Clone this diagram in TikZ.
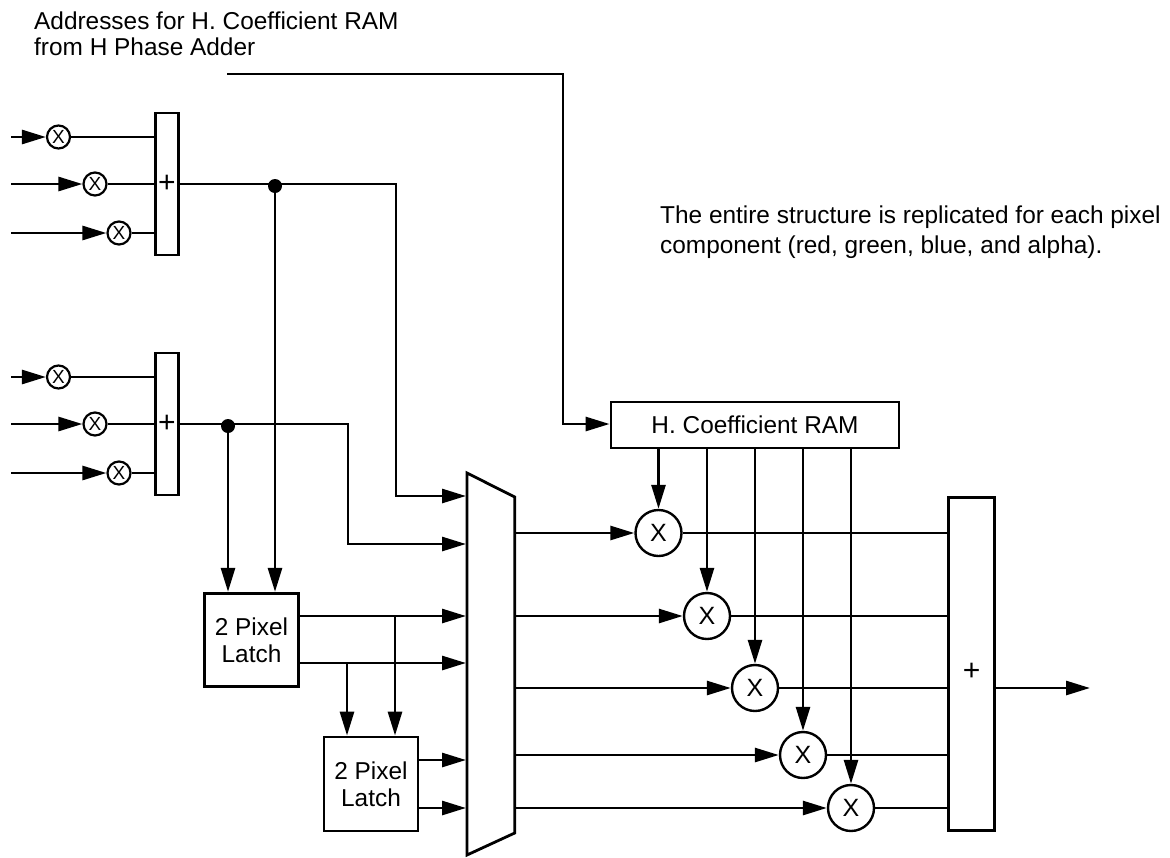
\documentclass[tikz,border=0pt]{standalone}
\usepackage{fontspec}
\setmainfont{Liberation Sans}
\usetikzlibrary{arrows.meta}
\begin{document}
\begin{tikzpicture}[x=1pt,y=-1pt,
  wire/.style={line width=2.8pt},
  arr/.style={wire,-{Triangle[length=24pt,width=14pt]}},
  box/.style={draw,line width=2.8pt,inner sep=0pt,font=\fontsize{24.4}{27}\selectfont},
  plusbox/.style={box,font=\fontsize{30}{30}\selectfont},
  smul/.style={draw,circle,line width=2.2pt,minimum size=23pt,inner sep=0pt,font=\fontsize{19}{19}\selectfont},
  bmul/.style={draw,circle,line width=2.4pt,minimum size=46pt,inner sep=0pt,font=\fontsize{25}{25}\selectfont},
  txt/.style={anchor=base west,inner sep=0pt,font=\fontsize{24.4}{28}\selectfont},
  dot/.style={circle,fill,minimum size=14pt,inner sep=0pt}
]
\useasboundingbox (0,0) rectangle (1170,857);

% texts
\node[txt] (t1) at (34,29.5) {Addresses for H. Coefficient RAM};
\node[txt] (t2) at (34,55.5) {from H Phase Adder};
\node[txt] (t3) at (660,223) {The entire structure is replicated for each pixel};
\node[txt] (t4) at (660,253) {component (red, green, blue, and alpha).};

% small adders
\node[plusbox,minimum width=23pt,minimum height=142pt] (A1) at (167,184) {+};
\node[plusbox,minimum width=23pt,minimum height=142pt] (A2) at (167,424) {+};

% small multipliers
\node[smul] (m11) at (58.5,137) {X};
\node[smul] (m12) at (95,184) {X};
\node[smul] (m13) at (119,233) {X};
\node[smul] (m21) at (58.5,377) {X};
\node[smul] (m22) at (95,424) {X};
\node[smul] (m23) at (119,473) {X};
\coordinate (i11) at (11,137);
\coordinate (i12) at (11,184);
\coordinate (i13) at (11,233);
\coordinate (i21) at (11,377);
\coordinate (i22) at (11,424);
\coordinate (i23) at (11,473);
\foreach \k in {11,12,13}{
  \draw[arr] (i\k) -- (m\k);
  \draw[wire] (m\k) -- (m\k -| A1.west);
}
\foreach \k in {21,22,23}{
  \draw[arr] (i\k) -- (m\k);
  \draw[wire] (m\k) -- (m\k -| A2.west);
}

% latches
\node[box,minimum width=94.5pt,minimum height=93.5pt,align=center] (L1) at (251.5,640) {2 Pixel\\Latch};
\node[box,minimum width=94pt,minimum height=94pt,align=center] (L2) at (371,784) {2 Pixel\\Latch};

% mux
\draw[line width=2.8pt] (467,473) -- (514.7,497) -- (514.7,833) -- (467,855) -- cycle;
\coordinate (mx1) at (466,496);
\coordinate (mx2) at (466,544);
\coordinate (mx3) at (466,616);
\coordinate (mx4) at (466,663);
\coordinate (mx5) at (466,760);
\coordinate (mx6) at (466,808);

% adder outputs
\draw[arr] (A1.east) -| (396,496) -- (mx1);
\draw[arr] (A2.east) -| (348,544) -- (mx2);
\node[dot] (d1) at (275,186) {};
\node[dot] (d2) at (228,426) {};
\draw[arr] (d1.center) -- (d1.center |- L1.north);
\draw[arr] (d2.center) -- (d2.center |- L1.north);

% latch outputs
\draw[arr] (L1.east |- mx3) -- (mx3);
\draw[arr] (L1.east |- mx4) -- (mx4);
\coordinate (b1) at (395,616);
\coordinate (b2) at (347,663);
\draw[arr] (b1) -- (b1 |- L2.north);
\draw[arr] (b2) -- (b2 |- L2.north);
\draw[arr] (L2.east |- mx5) -- (mx5);
\draw[arr] (L2.east |- mx6) -- (mx6);

% coefficient RAM
\node[box,minimum width=288pt,minimum height=46pt] (RAM) at (755,425) {H. Coefficient RAM};
\coordinate (a0) at (227,74);
\draw[arr] (a0) -| (563,424) -- (RAM.west |- 0,424);

% big multipliers
\node[bmul] (M1) at (658.5,533) {X};
\node[bmul] (M2) at (707,616) {X};
\node[bmul] (M3) at (755,688) {X};
\node[bmul] (M4) at (803,755) {X};
\node[bmul] (M5) at (851,808) {X};

% final adder
\node[box,minimum width=46.4pt,minimum height=333.4pt] (S) at (971.5,664) {};
\node[inner sep=0pt,font=\fontsize{30}{30}\selectfont] (plus) at (971.5,672) {+};
\coordinate (out) at (1090,688);
\draw[arr] (S.east |- out) -- (out);

\foreach \k in {1,...,5}{
  \draw[arr] (M\k -| 514.7,0) -- (M\k);
  \draw[arr] (RAM.south -| M\k) -- (M\k);
  \draw[wire] (M\k) -- (M\k -| S.west);
}
\end{tikzpicture}
\end{document}
